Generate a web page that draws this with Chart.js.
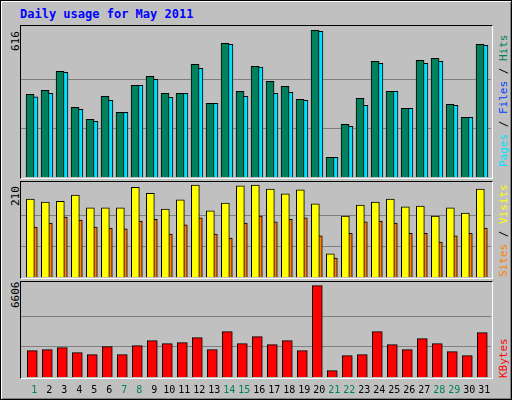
<!DOCTYPE html>
<html><head><meta charset="utf-8">
<script src="https://cdn.jsdelivr.net/npm/chart.js@4/dist/chart.umd.min.js"></script>
<style>
body{margin:0;background:#fff}
#wrap{position:relative;width:510px;height:398px;background:#C0C0C0;border:1px solid #000;box-shadow:inset 1px 1px 0 #fff,inset -1px -1px 0 #808080}
.t{position:absolute;font-family:"DejaVu Sans Mono",monospace;white-space:nowrap}
.frame{position:absolute;border:1px solid #000;border-right-color:#fff;border-bottom-color:#fff;left:19px;width:471px}
canvas{position:absolute}
.up{transform-origin:0 0;transform:rotate(-90deg);font-size:11px}
</style></head><body>
<div id="wrap">
<div class="t" style="left:19px;top:6px;color:#0000FF;font-weight:bold;font-size:12px">Daily usage for May 2011</div>
<div class="frame" style="top:24px;height:152px"></div>
<div class="frame" style="top:180px;height:96px"></div>
<div class="frame" style="top:280px;height:96px"></div>
<div class="t up" style="left:8px;top:50px">616</div>
<div class="t up" style="left:8px;top:205px">210</div>
<div class="t up" style="left:8px;top:307px">6606</div>
<div class="t up" style="left:496px;top:166px"><span style="color:#00E0FF">Pages</span><span style="color:#000"> / </span><span style="color:#0040FF">Files</span><span style="color:#000"> / </span><span style="color:#00805C">Hits</span></div>
<div class="t up" style="left:496px;top:276px"><span style="color:#FF8000">Sites</span><span style="color:#000"> / </span><span style="color:#FFFF00">Visits</span></div>
<div class="t up" style="left:496px;top:377px"><span style="color:#FF0000">KBytes</span></div>
<canvas id="c1" style="left:20px;top:25px"></canvas>
<canvas id="c2" style="left:20px;top:181px"></canvas>
<canvas id="c3" style="left:20px;top:281px"></canvas>
</div>
<script>
const days=[1,2,3,4,5,6,7,8,9,10,11,12,13,14,15,16,17,18,19,20,21,22,23,24,25,26,27,28,29,30,31];
const weekend=[1,7,8,14,15,21,22,28,29];
const hits=[347,364,444,293,242,339,272,385,423,351,351,473,309,561,360,465,402,381,326,616,83,221,330,486,360,288,490,498,305,251,557];
const pagesCyan=[337,351,440,284,234,322,272,385,410,335,351,456,309,557,339,461,351,356,322,612,83,213,301,477,360,288,477,486,301,251,553];
const filesBlue=[288,315,301,259,221,309,251,339,389,326,343,431,288,536,318,440,335,335,305,582,70,200,246,456,330,272,456,477,284,221,519];
const visits=[178,171,173,187,158,158,158,205,191,155,176,210,151,169,208,210,201,190,199,167,53,139,164,171,178,160,162,139,158,146,201];
const sites=[114,123,137,130,114,112,110,128,132,98,119,135,98,89,123,139,126,132,135,94,43,100,126,128,123,100,100,80,94,100,112];
const kbytes=[1904,1977,2121,1760,1615,2194,1615,2266,2628,2411,2483,2845,1977,3279,2411,2917,2338,2628,1904,6606,458,1543,1615,3279,2338,1977,2772,2411,1832,1543,3207];
const yMax1=616, yMax2=210, yMax3=6606;

function pts(arr,off){return arr.map((v,i)=>({x:days[i]+off,y:v}));}
function ds(arr,off,color,w){return {data:pts(arr,off),backgroundColor:color,borderColor:'#000',borderWidth:1,barThickness:w,maxBarThickness:w,grouped:false,borderSkipped:'bottom'};}
function opts(max,top,extra){
  return {responsive:false,animation:false,events:[],
    layout:{padding:{left:0,right:0,top:0,bottom:extra||0}},
    plugins:{legend:{display:false},tooltip:{enabled:false}},
    scales:{
      x:{type:'linear',min:0.267,max:31.6,offset:false,display:false},
      y:{min:0,max:top,border:{display:false},ticks:{display:false},
         afterBuildTicks:s=>{s.ticks=[{value:max/3},{value:2*max/3}];},
         grid:{color:'#808080',drawTicks:false,lineWidth:1}}
    }};
}
function mk(id,w,h,datasets,o,plugins){
  const c=document.getElementById(id);c.width=w;c.height=h;c.style.width=w+'px';c.style.height=h+'px';
  return new Chart(c,{type:'bar',data:{datasets},options:o,plugins:plugins||[]});
}
mk('c1',470,151,[ds(hits,-0.13,'#00805C',8),ds(pagesCyan,0.13,'#00E0FF',8),ds(filesBlue,-0.2,'#0040FF',3)],opts(yMax1,634));
mk('c2',470,95,[ds(visits,-0.11,'#FFFF00',8),ds(sites,0.12,'#FF8000',7)],opts(yMax2,217));
const lbl={id:'lbl',afterDraw(ch){
  const ctx=ch.ctx,sx=ch.scales.x;ctx.save();ctx.font='10px "DejaVu Sans Mono", monospace';ctx.textAlign='center';ctx.textBaseline='middle';
  days.forEach(d=>{ctx.fillStyle=weekend.includes(d)?'#00805C':'#000';ctx.fillText(String(d),sx.getPixelForValue(d+0.15),ch.chartArea.bottom+13);});
  ctx.restore();}};
mk('c3',470,118,[ds(kbytes,0.02,'#FF0000',10)],opts(yMax3,6866,23),[lbl]);
</script>
</body></html>
